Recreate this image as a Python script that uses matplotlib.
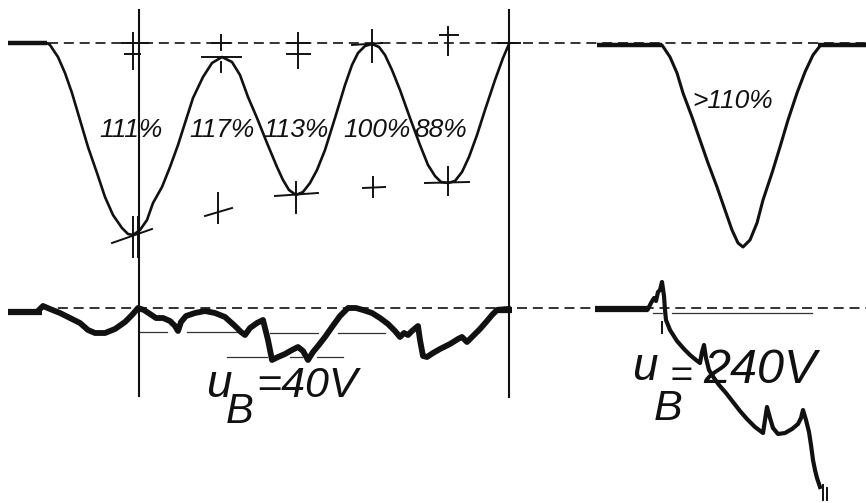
import numpy as np
import matplotlib.pyplot as plt

ink = '#111111'
font = ['Liberation Sans', 'DejaVu Sans']

# ---- 上左示波图 (屏幕坐标, y 向下) ----
top_left_t = [47, 50, 58, 65, 72, 80, 88, 97, 105, 113, 122, 128, 133, 140, 147, 153, 162, 170,
              178, 185, 193, 203, 212, 222, 232, 240, 248, 257, 267, 277, 283, 289, 296, 303,
              310, 317, 325, 335, 345, 352, 358, 365, 372, 379, 385, 392, 400, 410, 420, 428,
              435, 441, 448, 455, 462, 469, 477, 485, 495, 503, 509]
top_left_v = [43, 45, 57, 73, 93, 120, 147, 173, 197, 215, 228, 234, 235, 230, 220, 203, 187, 167,
              145, 123, 98, 77, 63, 57, 62, 75, 97, 118, 143, 167, 180, 190, 195, 192,
              183, 170, 150, 118, 85, 65, 53, 46, 44, 47, 55, 70, 90, 118, 145, 165,
              176, 182, 183, 181, 172, 157, 135, 110, 80, 58, 44]

# ---- 上右示波图 ----
top_right_t = [662, 670, 677, 683, 692, 700, 708, 717, 725, 732, 738, 743, 750, 757, 763, 772,
               780, 788, 797, 805, 813, 820]
top_right_v = [45, 57, 73, 93, 117, 140, 163, 187, 210, 230, 243, 247, 240, 223, 200, 173,
               147, 120, 93, 72, 55, 46]

# ---- 下左: u_B = 40V ----
bot_left_t = [40, 43, 50, 60, 70, 80, 88, 95, 105, 115, 125, 132, 138, 144, 150, 156, 163, 170,
              175, 178, 181, 186, 195, 205, 215, 225, 235, 241, 245, 250, 257, 263, 268, 272,
              278, 285, 292, 298, 303, 308, 313, 318, 325, 332, 340, 348, 356, 363, 372, 380,
              388, 395, 400, 404, 408, 412, 418, 420, 423, 427, 433, 440, 450, 458, 462, 467,
              472, 480, 487, 492, 497, 508]
bot_left_v = [309, 306, 309, 313, 318, 323, 330, 333, 333, 329, 322, 315, 308, 310, 314, 318, 318, 321,
              326, 331, 322, 316, 313, 311, 313, 317, 326, 332, 335, 328, 323, 320, 340, 360,
              357, 354, 350, 347, 351, 360, 352, 346, 337, 327, 316, 308, 308, 310, 313, 318,
              324, 331, 337, 333, 335, 331, 326, 340, 356, 357, 353, 349, 344, 339, 337, 342,
              337, 329, 321, 315, 310, 309]

# ---- 下右: u_B = 240V ----
bot_right_t = [648, 651, 654, 656, 658, 660, 662, 664, 665, 666, 670, 677, 684, 690, 696, 700,
               702, 704, 706, 709, 714, 719, 726, 733, 740, 747, 755, 763, 765, 767, 770, 773,
               778, 785, 792, 798, 801, 803, 806, 809, 811, 813, 815, 817, 820]
bot_right_v = [309, 303, 298, 301, 292, 290, 282, 296, 310, 320, 330, 341, 349, 355, 360, 363,
               352, 345, 358, 370, 378, 385, 393, 402, 411, 419, 427, 433, 420, 407, 418, 428,
               434, 433, 429, 424, 418, 410, 420, 432, 445, 460, 470, 478, 487]

# 起始的粗直线段 (x0, x1, y)
flats = [(8, 47, 43), (597, 662, 45), (818, 866, 45), (8, 42, 312), (595, 648, 309), (497, 512, 310)]

# 零线 (虚线) 与参考水平细线
zero_lines = [(48, 866, 43), (42, 866, 308)]
ref_lines = [(140, 167, 332), (187, 241, 332), (270, 318, 333), (338, 385, 333),
             (227, 267, 357), (290, 302, 357), (317, 343, 357),
             (653, 662, 313), (672, 812, 313)]

# 竖直时间标记
time_marks_x = [139, 509]
time_marks_top = [10, 10]
time_marks_bot = [396, 397]

# 十字标记线段 (x0, y0, x1, y1)
cross_segs = [
    (133, 33, 133, 69), (122, 43, 148, 43), (125, 54, 140, 54),
    (221, 35, 221, 50), (221, 62, 221, 72), (212, 43, 230, 43), (202, 57, 241, 57),
    (298, 33, 298, 68), (288, 43, 309, 43), (287, 54, 310, 54),
    (372, 30, 372, 62), (352, 45, 382, 43),
    (448, 27, 448, 55), (440, 35, 458, 35),
    (498, 43, 520, 43),
    (133, 217, 133, 257), (138, 217, 138, 257), (112, 243, 152, 229),
    (205, 216, 232, 208), (218, 193, 218, 223),
    (275, 196, 318, 193), (296, 182, 296, 213),
    (363, 188, 385, 187), (373, 177, 373, 197),
    (425, 183, 469, 182), (448, 167, 448, 195),
    (662, 322, 662, 333), (823, 485, 823, 500), (827, 488, 827, 500),
]

pct_labels = ['111%', '117%', '113%', '100%', '88%']
pct_x = [131, 222, 296, 377, 441]

fig = plt.figure(figsize=(8.66, 5.03), dpi=100)
ax = fig.add_axes([0, 0, 1, 1])
ax.set_xlim(0, 866)
ax.set_ylim(503, 0)
ax.axis('off')

for x0, x1, y in zero_lines:
    ax.plot([x0, x1], [y, y], color=ink, lw=1.2, dashes=(6, 3.5))
for x0, x1, y in ref_lines:
    ax.plot([x0, x1], [y, y], color='#333333', lw=0.9)
for x, y0, y1 in zip(time_marks_x, time_marks_top, time_marks_bot):
    ax.plot([x, x], [y0, y1], color=ink, lw=1.5)
for x0, y0, x1, y1 in cross_segs:
    ax.plot([x0, x1], [y0, y1], color=ink, lw=1.4)

ax.plot(top_left_t, top_left_v, color=ink, lw=1.9, solid_capstyle='round', solid_joinstyle='round')
ax.plot(top_right_t, top_right_v, color=ink, lw=2.2, solid_capstyle='round', solid_joinstyle='round')
ax.plot(bot_left_t, bot_left_v, color=ink, lw=4.2, solid_joinstyle='round')
ax.plot(bot_right_t, bot_right_v, color=ink, lw=3.0, solid_joinstyle='round')
for x0, x1, y in flats:
    ax.plot([x0, x1], [y, y], color=ink, lw=4.5 if y > 200 else 3.2, solid_capstyle='butt')

for s, x in zip(pct_labels, pct_x):
    ax.text(x, 137, s, family=font, style='italic', fontsize=19, color=ink,
            ha='center', va='baseline')
ax.text(733, 108, '>110%', family=font, style='italic', fontsize=19, color=ink,
        ha='center', va='baseline')

# u_B = 40V
ax.text(206, 397, 'u', family=font, style='italic', fontsize=33, color=ink, va='baseline')
ax.text(226, 423, 'B', family=font, style='italic', fontsize=30, color=ink, va='baseline')
ax.text(256, 397, '=40V', family=font, style='italic', fontsize=31, color=ink, va='baseline')

# u_B = 240V
ax.text(632, 380, 'u', family=font, style='italic', fontsize=33, color=ink, va='baseline')
ax.text(670, 387, '=', family=font, style='italic', fontsize=28, color=ink, va='baseline')
ax.text(654, 420, 'B', family=font, style='italic', fontsize=31, color=ink, va='baseline')
ax.text(703, 383, '240V', family=font, style='italic', fontsize=35, color=ink, va='baseline')

fig.savefig('out.png', dpi=100, facecolor='white')
